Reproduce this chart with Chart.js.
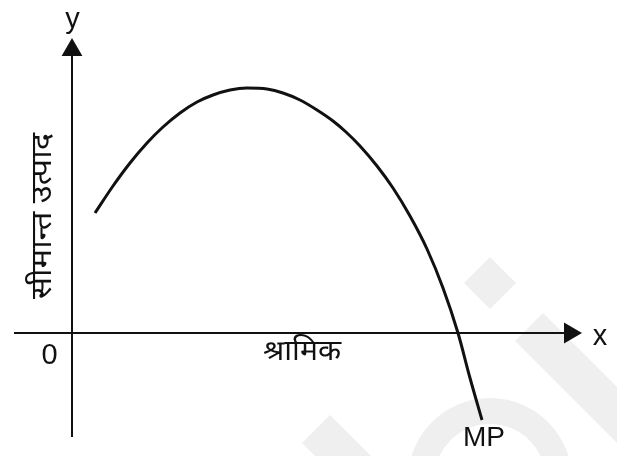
<!DOCTYPE html>
<html>
<head>
<meta charset="utf-8">
<script src="https://cdn.jsdelivr.net/npm/chart.js@4"></script>
<style>
  html, body { margin: 0; padding: 0; background: #ffffff; }
  #wrap { width: 617px; height: 456px; }
</style>
</head>
<body>
<div id="wrap"><canvas id="c" width="617" height="456"></canvas></div>
<script>
// ---- data (1 unit = 10 px, origin at axis crossing) ----
const mpX = [2.3, 4.1, 5.8, 7.5, 9.1, 10.8, 12.5, 14.1, 15.8, 17.5, 19.5, 21.1, 22.8, 24.5, 26.1, 27.4, 28.8, 30.5, 32.1, 33.8, 35.5, 37.1, 38.6, 39.8, 41.0];
const mpY = [12.0, 14.7, 17.0, 19.0, 20.6, 22.0, 23.1, 23.8, 24.3, 24.5, 24.4, 24.0, 23.3, 22.3, 21.2, 20.1, 18.7, 16.7, 14.5, 11.7, 8.4, 4.5, 0.0, -4.5, -8.7];
const xAxisX = [-5.8, 49.8];
const xAxisY = [0, 0];
const yAxisX = [0, 0];
const yAxisY = [-10.4, 28.3];
const xAxisName = 'x';
const yAxisName = 'y';
const xAxisTitle = 'श्रामिक';
const yAxisTitle = 'सीमान्त उत्पाद';
const originTick = '0';
const curveName = 'MP';

const toPts = (xs, ys) => xs.map((x, i) => ({ x: x, y: ys[i] }));

const devaFont = '"Noto Sans Devanagari", "Lohit Devanagari", "Noto Sans", sans-serif';
const latinFont = '"Liberation Sans", Arial, sans-serif';

function fitText(ctx, text, x, y, targetW, rot) {
  const w = ctx.measureText(text).width;
  ctx.save();
  ctx.translate(x, y);
  if (rot) ctx.rotate(rot);
  ctx.scale(targetW / w, 1);
  ctx.fillText(text, 0, 0);
  ctx.restore();
}

const labelPlugin = {
  id: 'labels',
  beforeDraw(chart) {
    const ctx = chart.ctx;
    ctx.save();
    ctx.fillStyle = '#efefef';
    // faint watermark shapes
    ctx.beginPath();
    ctx.moveTo(490, 257); ctx.lineTo(516, 283); ctx.lineTo(490, 309); ctx.lineTo(464, 283); ctx.closePath();
    ctx.fill();
    ctx.beginPath();
    ctx.moveTo(543, 313); ctx.lineTo(700, 470); ctx.lineTo(672, 498); ctx.lineTo(515, 341); ctx.closePath();
    ctx.fill();
    ctx.beginPath();
    ctx.moveTo(330, 415); ctx.lineTo(400, 485); ctx.lineTo(372, 513); ctx.lineTo(302, 443); ctx.closePath();
    ctx.fill();
    ctx.beginPath();
    ctx.arc(490, 480, 82, Math.PI, 2 * Math.PI);
    ctx.arc(490, 480, 56, 2 * Math.PI, Math.PI, true);
    ctx.closePath();
    ctx.fill();
    ctx.restore();
  },
  afterDraw(chart) {
    const ctx = chart.ctx;
    const xs = chart.scales.x, ys = chart.scales.y;
    const px = v => xs.getPixelForValue(v);
    const py = v => ys.getPixelForValue(v);
    ctx.save();
    ctx.fillStyle = '#111';
    ctx.textAlign = 'center';
    ctx.textBaseline = 'middle';
    ctx.font = '29px ' + latinFont;
    ctx.fillText(yAxisName, px(0.05), py(31.3));
    ctx.fillText(xAxisName, px(52.8), py(-0.4));
    ctx.fillText(originTick, px(-2.25), py(-2.3));
    ctx.font = '28px ' + latinFont;
    ctx.fillText(curveName, px(41.2), py(-10.5));
    ctx.font = '28px ' + devaFont;
    fitText(ctx, xAxisTitle, px(23.0), py(-2.2), 78, 0);
    fitText(ctx, yAxisTitle, px(-2.6), py(11.7), 166, -Math.PI / 2);
    ctx.restore();
  }
};

new Chart(document.getElementById('c'), {
  type: 'line',
  data: {
    datasets: [
      {
        label: curveName,
        data: toPts(mpX, mpY),
        borderColor: '#111',
        borderWidth: 3,
        pointRadius: 0,
        cubicInterpolationMode: 'monotone',
        fill: false
      },
      {
        label: 'x-axis',
        data: toPts(xAxisX, xAxisY),
        borderColor: '#111',
        backgroundColor: '#111',
        borderWidth: 2,
        pointStyle: 'triangle',
        pointRadius: [0, 12],
        pointBorderWidth: 0,
        pointRotation: 90,
        fill: false
      },
      {
        label: 'y-axis',
        data: toPts(yAxisX, yAxisY),
        borderColor: '#111',
        backgroundColor: '#111',
        borderWidth: 2,
        pointStyle: 'triangle',
        pointRadius: [0, 12],
        pointBorderWidth: 0,
        pointRotation: 0,
        fill: false
      }
    ]
  },
  options: {
    responsive: false,
    animation: false,
    events: [],
    layout: { padding: 0, autoPadding: false },
    plugins: { legend: { display: false }, tooltip: { enabled: false } },
    scales: {
      x: { type: 'linear', min: -7.2, max: 54.5, display: false },
      y: { type: 'linear', min: -12.3, max: 33.3, display: false }
    }
  },
  plugins: [labelPlugin]
});
</script>
</body>
</html>
